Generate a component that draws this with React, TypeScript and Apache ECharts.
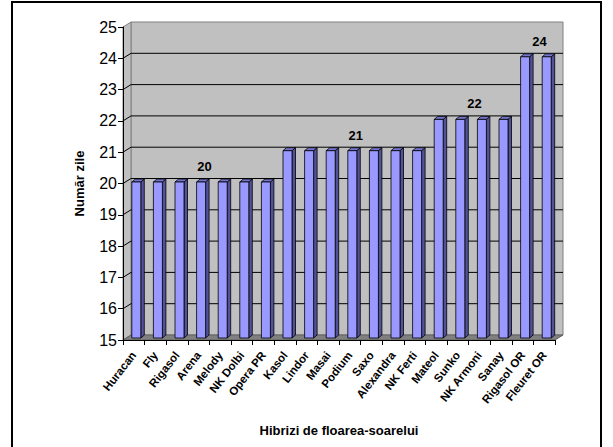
import React, { useEffect, useRef } from "react";
import * as echarts from "echarts";

const hybrids = [
  "Huracan", "Fly", "Rigasol", "Arena", "Melody", "NK Dolbi", "Opera PR",
  "Kasol", "Lindor", "Masai", "Podium", "Saxo", "Alexandra", "NK Ferti",
  "Mateol", "Sunko", "NK Armoni", "Sanay", "Rigasol OR", "Fleuret OR",
];
const days = [20, 20, 20, 20, 20, 20, 20, 21, 21, 21, 21, 21, 21, 21, 22, 22, 22, 22, 24, 24];
const yMin = 15;
const yMax = 25;
const yTicks = [15, 16, 17, 18, 19, 20, 21, 22, 23, 24, 25];

const FONT = "'Liberation Sans', Arial, sans-serif";

// groups of consecutive equal values, labelled once per group
function buildGroups(vals: number[]) {
  const out: number[][] = [];
  let start = 0;
  for (let i = 1; i <= vals.length; i++) {
    if (i === vals.length || vals[i] !== vals[start]) {
      out.push([start, i - 1, vals[start]]);
      start = i;
    }
  }
  return out;
}

export default function App() {
  const ref = useRef<HTMLDivElement>(null);
  useEffect(() => {
    if (!ref.current) return;
    const chart = echarts.init(ref.current, undefined, { renderer: "svg" });
    const DX = 8;
    const DY = -5;
    const groups = buildGroups(days);

    const option: any = {
      animation: false,
      backgroundColor: "#ffffff",
      grid: { left: 123, top: 27, width: 432, height: 313 },
      graphic: [
        {
          type: "rect",
          shape: { x: 12, y: 2, width: 589, height: 470 },
          style: { fill: "none", stroke: "#000", lineWidth: 2 },
          silent: true,
          z: 100,
        },
      ],
      xAxis: {
        type: "category",
        data: hybrids,
        boundaryGap: true,
        axisLine: { lineStyle: { color: "#000", width: 1 } },
        axisTick: { show: true, length: 5, alignWithLabel: false, lineStyle: { color: "#000" } },
        axisLabel: {
          interval: 0,
          rotate: 52,
          margin: 13,
          color: "#000",
          fontFamily: FONT,
          fontWeight: "bold",
          fontSize: 11.5,
        },
        name: "Hibrizi de floarea-soarelui",
        nameLocation: "middle",
        nameGap: 84,
        nameTextStyle: { color: "#000", fontFamily: FONT, fontWeight: "bold", fontSize: 13 },
        splitLine: { show: false },
        z: 10,
      },
      yAxis: {
        type: "value",
        min: yMin,
        max: yMax,
        interval: 1,
        axisLine: { show: true, lineStyle: { color: "#000", width: 1 } },
        axisTick: { show: true, length: 5, lineStyle: { color: "#000" } },
        axisLabel: { margin: 6, color: "#000", fontFamily: FONT, fontSize: 16 },
        splitLine: { show: false },
        name: "Număr zile",
        nameLocation: "middle",
        nameGap: 37,
        nameTextStyle: { color: "#000", fontFamily: FONT, fontWeight: "bold", fontSize: 13 },
        z: 10,
      },
      series: [
        {
          type: "custom",
          name: "walls",
          data: [[0, yMin]],
          encode: { x: 0, y: 1 },
          z: 1,
          silent: true,
          renderItem: (params: any, api: any) => {
            const cs = params.coordSys;
            const x0 = cs.x;
            const x1 = cs.x + cs.width;
            const y0 = cs.y;
            const y1 = cs.y + cs.height;
            const children: any[] = [];
            children.push({
              type: "rect",
              shape: { x: x0 + DX, y: y0 + DY, width: x1 - x0, height: y1 - y0 },
              style: { fill: "#c0c0c0", stroke: "#808080", lineWidth: 1 },
            });
            children.push({
              type: "polygon",
              shape: { points: [[x0, y0], [x0 + DX, y0 + DY], [x0 + DX, y1 + DY], [x0, y1]] },
              style: { fill: "#c0c0c0", stroke: "#808080", lineWidth: 1 },
            });
            yTicks.forEach((v) => {
              if (v === yMin || v === yMax) return;
              const y = api.coord([0, v])[1];
              children.push({
                type: "line",
                shape: { x1: x0 + DX, y1: y + DY, x2: x1 + DX, y2: y + DY },
                style: { stroke: "#000", lineWidth: 1 },
              });
              children.push({
                type: "line",
                shape: { x1: x0, y1: y, x2: x0 + DX, y2: y + DY },
                style: { stroke: "#000", lineWidth: 1 },
              });
            });
            children.push({
              type: "polygon",
              shape: { points: [[x0, y1], [x1, y1], [x1 + DX, y1 + DY], [x0 + DX, y1 + DY]] },
              style: { fill: "#808080", stroke: "#606060", lineWidth: 1 },
            });
            return { type: "group", children };
          },
        },
        {
          type: "custom",
          name: "Număr zile",
          data: days.map((v, i) => [i, v]),
          encode: { x: 0, y: 1 },
          z: 3,
          renderItem: (params: any, api: any) => {
            const idx = api.value(0);
            const val = api.value(1);
            const c = api.coord([idx, val]);
            const b = api.coord([idx, yMin]);
            const L = c[0] - 2;
            const W = 9;
            const R = L + W;
            const top = c[1] - 1.5;
            const bottom = b[1] - 2;
            const ddx = 3.5;
            const ddy = -3;
            return {
              type: "group",
              children: [
                {
                  type: "polygon",
                  shape: { points: [[R, top], [R + ddx, top + ddy], [R + ddx, bottom + ddy], [R, bottom]] },
                  style: { fill: "#52529a", stroke: "#000", lineWidth: 0.8 },
                },
                {
                  type: "polygon",
                  shape: { points: [[L, top], [L + ddx, top + ddy], [R + ddx, top + ddy], [R, top]] },
                  style: { fill: "#7373cc", stroke: "#000", lineWidth: 0.8 },
                },
                {
                  type: "rect",
                  shape: { x: L, y: top, width: W, height: bottom - top },
                  style: { fill: "#9999ff", stroke: "#000", lineWidth: 0.8 },
                },
              ],
            };
          },
        },
        {
          type: "custom",
          name: "labels",
          data: groups,
          encode: { x: [0, 1], y: 2 },
          z: 4,
          silent: true,
          renderItem: (params: any, api: any) => {
            const a = api.coord([api.value(0), api.value(2)]);
            const b = api.coord([api.value(1), api.value(2)]);
            return {
              type: "text",
              style: {
                text: String(api.value(2)),
                x: (a[0] + b[0]) / 2 + 6,
                y: a[1] - 17,
                align: "center",
                verticalAlign: "middle",
                fill: "#000",
                font: `bold 13px ${FONT}`,
              },
            };
          },
        },
      ],
    };
    chart.setOption(option);
    return () => chart.dispose();
  }, []);
  return (
    <div
      ref={ref}
      style={{ position: "absolute", left: 0, top: 0, width: 613, height: 447 }}
    />
  );
}
